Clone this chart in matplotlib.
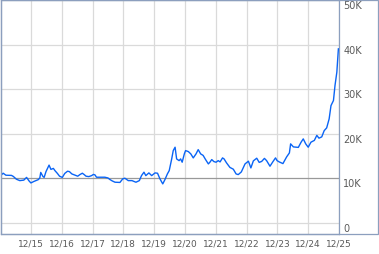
import numpy as np
import matplotlib
matplotlib.use('Agg')
import matplotlib.pyplot as plt
from matplotlib.patches import Rectangle

# time in days of December, value in units
days = [14.03, 14.10, 14.19, 14.37, 14.43, 14.53, 14.64, 14.77, 14.86, 14.94,
        15.00, 15.10, 15.24, 15.29, 15.32, 15.39, 15.43, 15.49, 15.54, 15.59,
        15.65, 15.73, 15.78, 15.86, 15.93, 16.02, 16.10, 16.19, 16.25, 16.33,
        16.43, 16.52, 16.59, 16.67, 16.73, 16.79, 16.88, 16.97, 17.03, 17.08,
        17.13, 17.40, 17.50, 17.56, 17.64, 17.73, 17.89, 17.98, 18.05, 18.16,
        18.28, 18.41, 18.52, 18.59, 18.67, 18.73, 18.83, 18.92, 19.03, 19.11,
        19.19, 19.28, 19.35, 19.43, 19.49, 19.57, 19.62, 19.68, 19.73, 19.81,
        19.86, 19.91, 19.98, 20.02, 20.11, 20.19, 20.27, 20.36, 20.43, 20.51,
        20.59, 20.67, 20.76, 20.81, 20.87, 20.94, 21.01, 21.08, 21.14, 21.22,
        21.27, 21.35, 21.46, 21.57, 21.66, 21.73, 21.83, 21.95, 22.06, 22.14,
        22.22, 22.33, 22.41, 22.49, 22.58, 22.65, 22.76, 22.85, 22.94, 22.99,
        23.06, 23.18, 23.30, 23.39, 23.43, 23.52, 23.68, 23.77, 23.84, 23.92,
        24.00, 24.09, 24.20, 24.28, 24.35, 24.44, 24.52, 24.60, 24.68, 24.74,
        24.82, 24.87, 24.93, 24.98]
values = [10.65, 11.10, 10.65, 10.61, 10.38, 9.75, 9.44, 9.55, 10.16, 9.37,
          8.92, 9.26, 9.66, 10.04, 11.28, 10.38, 10.16, 11.46, 12.22, 12.92,
          11.96, 12.18, 11.69, 11.06, 10.43, 10.16, 11.06, 11.55, 11.46, 10.94,
          10.67, 10.43, 10.79, 11.10, 10.79, 10.43, 10.34, 10.56, 10.83, 10.72,
          10.20, 10.20, 10.04, 9.71, 9.37, 9.08, 9.03, 9.82, 9.98, 9.44,
          9.44, 9.08, 9.44, 10.56, 11.33, 10.56, 11.17, 10.56, 11.17, 11.10,
          9.82, 8.70, 9.66, 10.94, 11.69, 14.31, 16.18, 16.94, 14.31, 13.93,
          14.31, 13.57, 15.44, 16.18, 15.96, 15.44, 14.54, 15.44, 16.40, 15.44,
          15.10, 14.16, 13.19, 13.57, 14.16, 13.71, 13.57, 13.93, 13.64, 14.54,
          14.31, 13.42, 12.40, 12.00, 10.94, 10.79, 11.39, 13.19, 13.80, 12.29,
          13.87, 14.47, 13.53, 13.75, 14.43, 13.93, 12.67, 13.64, 14.54, 13.93,
          13.64, 13.26, 14.76, 15.66, 17.69, 17.01, 16.90, 18.07, 18.81, 17.69,
          16.94, 18.07, 18.47, 19.60, 18.97, 19.26, 20.67, 21.28, 23.30, 26.29,
          27.42, 30.79, 33.80, 39.03]
values = np.array(values) * 1000

tick_days = [15, 16, 17, 18, 19, 20, 21, 22, 23, 24, 25]
tick_labels = ['12/15', '12/16', '12/17', '12/18', '12/19', '12/20',
               '12/21', '12/22', '12/23', '12/24', '12/25']
y_ticks = [0, 10000, 20000, 30000, 40000, 50000]
y_labels = ['0', '10K', '20K', '30K', '40K', '50K']

border = '#8c9fbe'
text_col = '#5a5a5a'

W, H = 379, 255
fig = plt.figure(figsize=(W / 100, H / 100), dpi=100)
ax = fig.add_axes([1 / W, (H - 235) / H, 338 / W, 234 / H])

for d in tick_days:
    ax.axvline(d, color='#dadada', lw=0.9, zorder=1)
for v in y_ticks:
    if v == 10000:
        ax.axhline(v, color='#999999', lw=0.9, zorder=2)
    else:
        ax.axhline(v, color='#dadada', lw=0.9, zorder=1)

ax.plot(days, values, color='#0a64f5', lw=1.0, zorder=3)

ax.set_xlim(14.03, 25.0)
ax.set_ylim(-2550, 50000)

ax.set_xticks(tick_days)
ax.set_xticklabels(tick_labels)
ax.yaxis.tick_right()
ax.set_yticks(y_ticks)
ax.set_yticklabels(y_labels)
ax.tick_params(axis='both', length=0, labelcolor=text_col)
ax.tick_params(axis='x', pad=3, labelsize=6.5)
ax.tick_params(axis='y', pad=3, labelsize=7)
for lab in ax.get_yticklabels():
    lab.set_verticalalignment('top')

for s in ax.spines.values():
    s.set_color(border)
    s.set_linewidth(0.9)

# outer frame around the label column
fig.patches.append(Rectangle((1 / W, (H - 235) / H), 377 / W, 234 / H,
                             transform=fig.transFigure, fill=False,
                             edgecolor=border, lw=0.9))

fig.savefig('out.png', dpi=100)
